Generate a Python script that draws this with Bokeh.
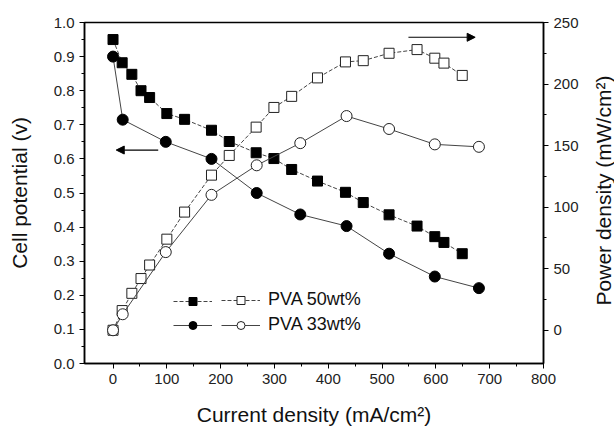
import math
from bokeh.plotting import figure
from bokeh.layouts import row
from bokeh.models import (Range1d, LinearAxis, Legend, LegendItem, Arrow, Label,
                          NormalHead, FixedTicker, NumeralTickFormatter)
from bokeh.embed import file_html
from bokeh.resources import INLINE

# ---- data ----
current_50 = [0, 17, 35, 52, 68, 100, 133, 183, 216, 266, 299, 332, 380, 432, 465, 513, 565, 598, 615, 649]
voltage_50 = [0.95, 0.882, 0.848, 0.80, 0.78, 0.733, 0.716, 0.684, 0.651, 0.618, 0.601, 0.569, 0.535,
              0.502, 0.472, 0.436, 0.403, 0.372, 0.355, 0.322]
power_50 = [0, 16, 30, 42, 53, 74, 96, 126, 142, 165, 181, 190, 205, 218, 219, 225, 228, 221, 217, 207]

current_33 = [0, 18, 98, 183, 267, 348, 434, 513, 598, 680]
voltage_33 = [0.90, 0.715, 0.65, 0.60, 0.50, 0.437, 0.403, 0.322, 0.255, 0.221]
power_33 = [0, 13, 63.5, 110, 134, 152, 174, 163.5, 151, 149]

labels = ["PVA 50wt%", "PVA 33wt%"]

x_ticks = [0, 100, 200, 300, 400, 500, 600, 700, 800]
x_minor = [50, 150, 250, 350, 450, 550, 650, 750]
v_ticks = [0.0, 0.1, 0.2, 0.3, 0.4, 0.5, 0.6, 0.7, 0.8, 0.9, 1.0]
v_minor = [0.05, 0.15, 0.25, 0.35, 0.45, 0.55, 0.65, 0.75, 0.85, 0.95]
p_ticks = [0, 50, 100, 150, 200, 250]
p_minor = [25, 75, 125, 175, 225]

FONT = "Liberation Sans"
TITLE_SIZE = "21px"
H = 428

main = figure(width=584, height=H, x_range=Range1d(-53, 800), y_range=Range1d(0, 1.0),
              output_backend="svg", toolbar_location=None,
              min_border_left=84, min_border_right=41, min_border_top=22, min_border_bottom=64)
main.extra_y_ranges = {"power": Range1d(-27, 250)}
main.xgrid.visible = False
main.ygrid.visible = False
main.outline_line_color = "black"
main.outline_line_width = 1.5
main.background_fill_color = "white"

line_col = "#444444"

l50v = main.line(current_50, voltage_50, line_color=line_col, line_width=1, line_dash="4 2")
s50v = main.scatter(current_50, voltage_50, marker="square", size=10, fill_color="black", line_color="black")
l33v = main.line(current_33, voltage_33, line_color=line_col, line_width=1)
c33v = main.scatter(current_33, voltage_33, marker="circle", size=11, fill_color="black", line_color="black")

l50p = main.line(current_50, power_50, y_range_name="power", line_color=line_col, line_width=1, line_dash="4 2")
s50p = main.scatter(current_50, power_50, y_range_name="power", marker="square", size=10,
                    fill_color="white", line_color="#222222", line_width=1)
l33p = main.line(current_33, power_33, y_range_name="power", line_color=line_col, line_width=1)
c33p = main.scatter(current_33, power_33, y_range_name="power", marker="circle", size=11,
                    fill_color="white", line_color="#222222", line_width=1)

# axes
right_axis = LinearAxis(y_range_name="power")
main.add_layout(right_axis, "right")

main.xaxis.axis_label = "Current density (mA/cm²)"
main.yaxis[0].axis_label = "Cell potential (v)"

main.xaxis.ticker = FixedTicker(ticks=x_ticks, minor_ticks=x_minor)
main.yaxis[0].ticker = FixedTicker(ticks=v_ticks, minor_ticks=v_minor)
main.yaxis[0].formatter = NumeralTickFormatter(format="0.0")
right_axis.ticker = FixedTicker(ticks=p_ticks, minor_ticks=p_minor)

for ax in [main.xaxis[0], main.yaxis[0], right_axis]:
    ax.axis_line_color = "black"
    ax.axis_line_width = 1.5
    ax.major_tick_in = 0
    ax.major_tick_out = 5
    ax.minor_tick_in = 0
    ax.minor_tick_out = 3
    ax.major_tick_line_color = "black"
    ax.minor_tick_line_color = "black"
    ax.major_label_text_font = FONT
    ax.major_label_text_font_size = "15px"
    ax.major_label_text_color = "#222222"
    ax.major_label_standoff = 5
    ax.axis_label_text_font = FONT
    ax.axis_label_text_font_size = TITLE_SIZE
    ax.axis_label_text_font_style = "normal"
    ax.axis_label_text_color = "#111111"

main.yaxis[0].axis_label_standoff = 20
main.xaxis[0].axis_label_standoff = 16

# legends (two side-by-side glyph columns)
common = dict(border_line_color=None, background_fill_alpha=0, padding=0, margin=0, spacing=4,
              glyph_width=39, glyph_height=20, label_height=20, label_standoff=8,
              label_text_font=FONT, label_text_font_size="18px", label_text_color="#111111")
leg1 = Legend(items=[LegendItem(label="", renderers=[l50v, s50v]),
                     LegendItem(label="", renderers=[l33v, c33v])],
              location=(89, 28), **common)
leg2 = Legend(items=[LegendItem(label=labels[0], renderers=[l50p, s50p]),
                     LegendItem(label=labels[1], renderers=[l33p, c33p])],
              location=(137, 28), **common)
main.add_layout(leg1)
main.add_layout(leg2)

# arrows
main.add_layout(Arrow(end=NormalHead(size=8, fill_color="black", line_color="black"),
                      x_start=84, y_start=0.626, x_end=6, y_end=0.626,
                      line_color="black", line_width=1.2))
main.add_layout(Arrow(end=NormalHead(size=8, fill_color="black", line_color="black"),
                      x_start=549, y_start=238, x_end=673, y_end=238, y_range_name="power",
                      line_color="black", line_width=1.2))

# narrow strip holding the right-hand axis title (reads bottom-to-top);
# its frame is aligned with the main frame (top 22, bottom 364)
side = figure(width=30, height=H, x_range=Range1d(0, 1), y_range=Range1d(0, 1),
              output_backend="svg", toolbar_location=None,
              x_axis_location=None, y_axis_location=None,
              min_border_left=0, min_border_right=0, min_border_top=0, min_border_bottom=0)
side.outline_line_color = None
side.xgrid.visible = False
side.ygrid.visible = False
side.background_fill_color = "white"
side.border_fill_color = "white"
side.add_layout(Label(x=19, y=364 - 191, x_units="screen", y_units="screen",
                      text="Power density (mW/cm²)", angle=math.pi / 2,
                      text_align="center", text_baseline="middle",
                      text_font=FONT, text_font_size=TITLE_SIZE, text_color="#111111"))

p = row(main, side, spacing=0)

open("out.html", "w").write(file_html(p, INLINE))
